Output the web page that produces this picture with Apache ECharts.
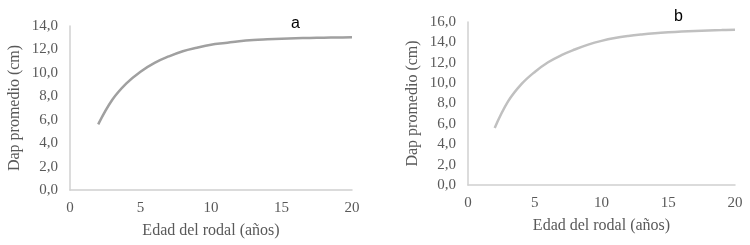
<!DOCTYPE html>
<html>
<head>
<meta charset="utf-8">
<script src="https://cdn.jsdelivr.net/npm/echarts@6/dist/echarts.min.js"></script>
<style>
html,body{margin:0;padding:0;background:#fff;}
#c{width:750px;height:245px;}
</style>
</head>
<body>
<div id="c"></div>
<script>
const ages = [2,3,4,5,6,7,8,9,10,11,12,13,14,15,16,17,18,19,20];
const dapA = [5.6,7.7,9.1,10.1,10.85,11.4,11.85,12.15,12.4,12.55,12.7,12.8,12.86,12.91,12.95,12.98,13.0,13.02,13.04];
const dapB = [5.6,8.2,9.9,11.1,12.05,12.75,13.3,13.78,14.15,14.43,14.63,14.78,14.9,14.99,15.06,15.12,15.17,15.21,15.25];
const panelLabels = ['a','b'];
const xTitle = 'Edad del rodal (años)';
const yTitle = 'Dap promedio (cm)';
const yMaxA = 14, yMaxB = 16;

const serif = '"Liberation Serif","DejaVu Serif",serif';
const txt = '#595959';
const fmt = v => v.toFixed(1).replace('.', ',');

function xAxis(i){
  return {gridIndex:i,type:'value',min:0,max:20,interval:5,
    name:xTitle,nameLocation:'middle',nameGap:33,
    nameTextStyle:{fontFamily:serif,fontSize:16,color:txt},
    axisLine:{show:true,lineStyle:{color:'#d0d0d0',width:1.5}},
    axisTick:{show:false},splitLine:{show:false},
    axisLabel:{fontFamily:serif,fontSize:15,color:txt,margin:11}};
}
function yAxis(i,max){
  return {gridIndex:i,type:'value',min:0,max:max,interval:2,
    name:yTitle,nameLocation:'middle',nameGap:47,nameRotate:90,
    nameTextStyle:{fontFamily:serif,fontSize:16,color:txt},
    axisLine:{show:true,lineStyle:{color:'#d0d0d0',width:1.5}},
    axisTick:{show:false},splitLine:{show:false},
    axisLabel:{fontFamily:serif,fontSize:15,color:txt,margin:12,formatter:fmt}};
}
const labelStyle = {fontFamily:'"Liberation Sans",Arial,sans-serif',fontSize:16,fontWeight:'normal',color:'#000'};
const chart = echarts.init(document.getElementById('c'));
chart.setOption({
  animation:false,
  title:[
    {text:panelLabels[0],left:286,top:11,textStyle:labelStyle},
    {text:panelLabels[1],left:669,top:4,textStyle:labelStyle}
  ],
  grid:[
    {left:70,right:398,top:26,bottom:55},
    {left:468,right:15,top:22,bottom:60}
  ],
  xAxis:[xAxis(0),xAxis(1)],
  yAxis:[yAxis(0,yMaxA),yAxis(1,yMaxB)],
  series:[
    {type:'line',xAxisIndex:0,yAxisIndex:0,smooth:0.4,showSymbol:false,
      lineStyle:{color:'#a0a0a0',width:2.5},data:ages.map((x,i)=>[x,dapA[i]])},
    {type:'line',xAxisIndex:1,yAxisIndex:1,smooth:0.4,showSymbol:false,
      lineStyle:{color:'#c0c0c0',width:2.5},data:ages.map((x,i)=>[x,dapB[i]])}
  ]
});
</script>
</body>
</html>
